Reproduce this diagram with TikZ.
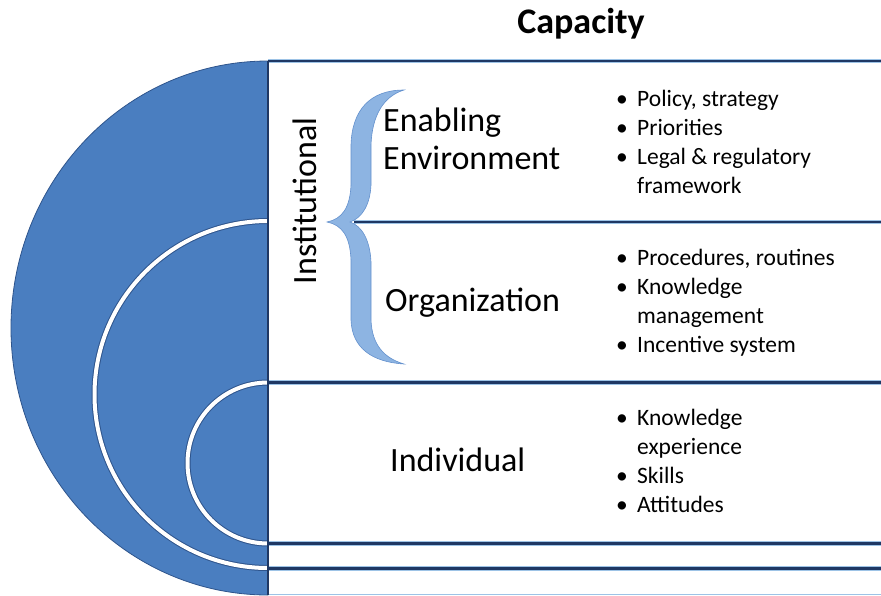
\documentclass[tikz,border=0pt]{standalone}
\usepackage{fontspec}
\setmainfont{Carlito}
\definecolor{bigblue}{RGB}{74,126,192}
\definecolor{edgeblue}{RGB}{46,84,140}
\definecolor{navy}{RGB}{31,56,100}
\definecolor{glow}{RGB}{157,195,230}
\definecolor{bracefill}{RGB}{141,180,226}
\definecolor{braceedge}{RGB}{100,145,205}
\begin{document}
\begin{tikzpicture}[x=1pt,y=-1pt,
  lbl/.style={font=\fontsize{34}{37}\selectfont, inner sep=0pt, anchor=base west},
  bul/.style={font=\fontsize{23.5}{28}\selectfont, inner sep=0pt, anchor=base west},
  dot/.style={font=\fontsize{23.5}{28}\selectfont, inner sep=0pt, anchor=base west},
  boxline/.style={draw=navy, line width=2.2pt, preaction={draw=glow, line width=4.2pt}},
  ringline/.style={draw=white, line width=4pt, preaction={draw=edgeblue, line width=6pt}}]
\useasboundingbox (0,0) rectangle (881,595);
% outer half disc
\fill[bigblue, draw=edgeblue, line width=0.8pt] (268,61) arc[start angle=-90, end angle=-270, x radius=257, y radius=267] -- cycle;
% white rings
\draw[ringline] (268,221) arc[start angle=-90, end angle=-270, radius=173.5];
\draw[ringline] (268,382.5) arc[start angle=-90, end angle=-270, radius=80.5];
% coordinates
\coordinate (tl) at (268,61);
\coordinate (tr) at (881,61);
\coordinate (bl) at (268,595);
\coordinate (el) at (354,222);
\coordinate (er) at (881,222);
\coordinate (ol) at (268,382.5);
\coordinate (or) at (881,382.5);
\coordinate (il) at (268,543.5);
\coordinate (ir) at (881,543.5);
\coordinate (ml) at (268,568.5);
\coordinate (mr) at (881,568.5);
\coordinate (fl) at (268,594.5);
\coordinate (fr) at (881,594.5);
% lines
\draw[glow, line width=1.5pt] (fl) -- (fr);
\draw[boxline] (tl) -- (tr);
\draw[boxline] (el) -- (er);
\draw[boxline] (ol) -- (or);
\draw[boxline] (il) -- (ir);
\draw[boxline] (ml) -- (mr);
\draw[navy, line width=2pt] (tl) -- (bl);
% brace
\fill[bracefill, draw=braceedge, line width=0.6pt]
  (404,90) .. controls (370,90) and (352,110) .. (351,145) -- (351,185)
  .. controls (350,208) and (342,219) .. (327,222)
  .. controls (342,225) and (350,236) .. (351,260) -- (351,320)
  .. controls (352,348) and (372,362) .. (404,364)
  .. controls (384,358) and (372,345) .. (371,320) -- (371,262)
  .. controls (370,240) and (362,226) .. (350,222)
  .. controls (362,218) and (370,205) .. (371,185) -- (371,145)
  .. controls (372,115) and (384,96) .. (404,90) -- cycle;
% title
\node[font=\fontsize{36}{40}\selectfont\bfseries, inner sep=0pt, anchor=base] (title) at (581,33) {Capacity};
% labels
\node[lbl, rotate=90, anchor=base] (inst) at (316.5,201) {Institutional};
\node[lbl] (enab1) at (383,131.5) {Enabling};
\node[lbl] (enab2) at (383,169) {Environment};
\node[lbl] (org) at (385,311.5) {Organization};
\node[lbl] (ind) at (390,471.5) {Individual};
% bullets: enabling environment
\node[dot] (d1) at (616,106.5) {•};
\node[bul] (t1) at (637,106.5) {Policy, strategy};
\node[dot] (d2) at (616,135.5) {•};
\node[bul] (t2) at (637,135.5) {Priorities};
\node[dot] (d3) at (616,164.5) {•};
\node[bul] (t3) at (637,164.5) {Legal \& regulatory};
\node[bul] (t3b) at (637,193) {framework};
% organization
\node[dot] (d4) at (616,265) {•};
\node[bul] (t4) at (637,265) {Procedures, routines};
\node[dot] (d5) at (616,294) {•};
\node[bul] (t5) at (637,294) {Knowledge};
\node[bul] (t5b) at (637,323) {management};
\node[dot] (d6) at (616,352) {•};
\node[bul] (t6) at (637,352) {Incentive system};
% individual
\node[dot] (d7) at (616,425) {•};
\node[bul] (t7) at (637,425) {Knowledge};
\node[bul] (t7b) at (637,454) {experience};
\node[dot] (d8) at (616,483) {•};
\node[bul] (t8) at (637,483) {Skills};
\node[dot] (d9) at (616,512) {•};
\node[bul] (t9) at (637,512) {Attitudes};
\end{tikzpicture}
\end{document}
